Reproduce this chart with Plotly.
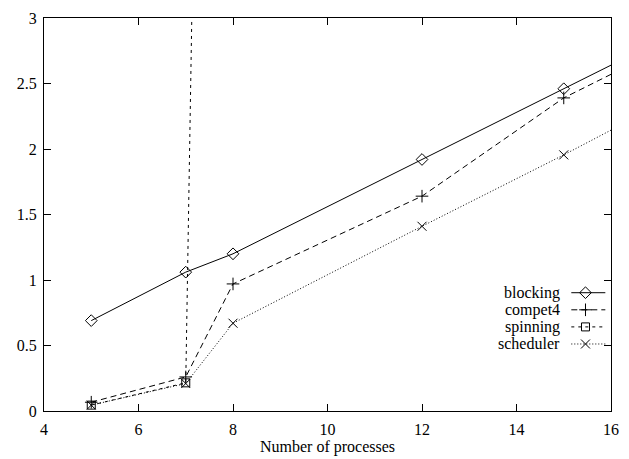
import plotly.graph_objects as go

# Measured times by number of processes (points past x=16 run off the plot edge)
blocking_x = [5, 7, 8, 12, 15, 20]
blocking_y = [0.69, 1.06, 1.20, 1.92, 2.46, 3.36]

compet4_x = [5, 7, 8, 12, 15, 20]
compet4_y = [0.067, 0.26, 0.97, 1.64, 2.39, 3.29]

spinning_x = [5, 7, 8]
spinning_y = [0.045, 0.215, 22.0]

scheduler_x = [5, 7, 8, 12, 15, 20]
scheduler_y = [0.045, 0.21, 0.67, 1.41, 1.955, 2.90]

x_ticks = [4, 6, 8, 10, 12, 14, 16]
y_ticks = [0, 0.5, 1, 1.5, 2, 2.5, 3]

series = [
    ("blocking", blocking_x, blocking_y, "solid", "diamond-open", 9),
    ("compet4", compet4_x, compet4_y, "6px,4px", "cross-thin-open", 9),
    ("spinning", spinning_x, spinning_y, "3px,4px", "square-open", 8),
    ("scheduler", scheduler_x, scheduler_y, "1px,2px", "x-thin-open", 9),
]

FONT = "'Liberation Serif', 'Times New Roman', serif"

fig = go.Figure()
for name, xs, ys, dash, sym, size in series:
    fig.add_trace(go.Scatter(
        x=xs, y=ys, mode="lines+markers", name=name, showlegend=False,
        line=dict(color="black", width=1, dash=dash),
        marker=dict(symbol=sym, size=size, color="black",
                    line=dict(color="black", width=1)),
        cliponaxis=True,
    ))

# Key drawn gnuplot-style: label on the left, line sample on the right
key_top = 0.301
key_step = 0.0435
for i, (name, xs, ys, dash, sym, size) in enumerate(series):
    ky = key_top - i * key_step
    fig.add_trace(go.Scatter(
        x=[0.93, 0.955, 0.99], y=[ky, ky, ky], xaxis="x2", yaxis="y2",
        mode="lines", showlegend=False, hoverinfo="skip",
        line=dict(color="black", width=1, dash=dash),
    ))
    fig.add_trace(go.Scatter(
        x=[0.955], y=[ky], xaxis="x2", yaxis="y2",
        mode="markers", showlegend=False, hoverinfo="skip",
        marker=dict(symbol=sym, size=size, color="black",
                    line=dict(color="black", width=1)),
    ))
    fig.add_annotation(
        x=0.914, y=ky, xref="x2", yref="y2", text=name, showarrow=False,
        xanchor="right", yanchor="middle",
        font=dict(family=FONT, size=16, color="black"),
    )

axis_common = dict(
    showgrid=False, zeroline=False, showline=True, linecolor="black",
    linewidth=1, mirror="allticks", ticks="inside", ticklen=7,
    tickcolor="black", tickwidth=1,
    tickfont=dict(family=FONT, size=16, color="black"),
)

fig.update_layout(
    width=629, height=459,
    margin=dict(l=44, r=18, t=10, b=47),
    paper_bgcolor="white", plot_bgcolor="white",
    xaxis=dict(range=[4, 16], tickvals=x_ticks, ticklabelstandoff=4,
               title=dict(text="Number of processes", standoff=0,
                          font=dict(family=FONT, size=16, color="black")),
               **axis_common),
    yaxis=dict(range=[0, 3], tickvals=y_ticks, ticklabelstandoff=3,
               ticktext=[("%g" % v) for v in y_ticks], **axis_common),
    xaxis2=dict(range=[0, 1], overlaying="x", visible=False, fixedrange=True),
    yaxis2=dict(range=[0, 1], overlaying="y", visible=False, fixedrange=True),
    showlegend=False,
)

fig.write_html("out.html")
